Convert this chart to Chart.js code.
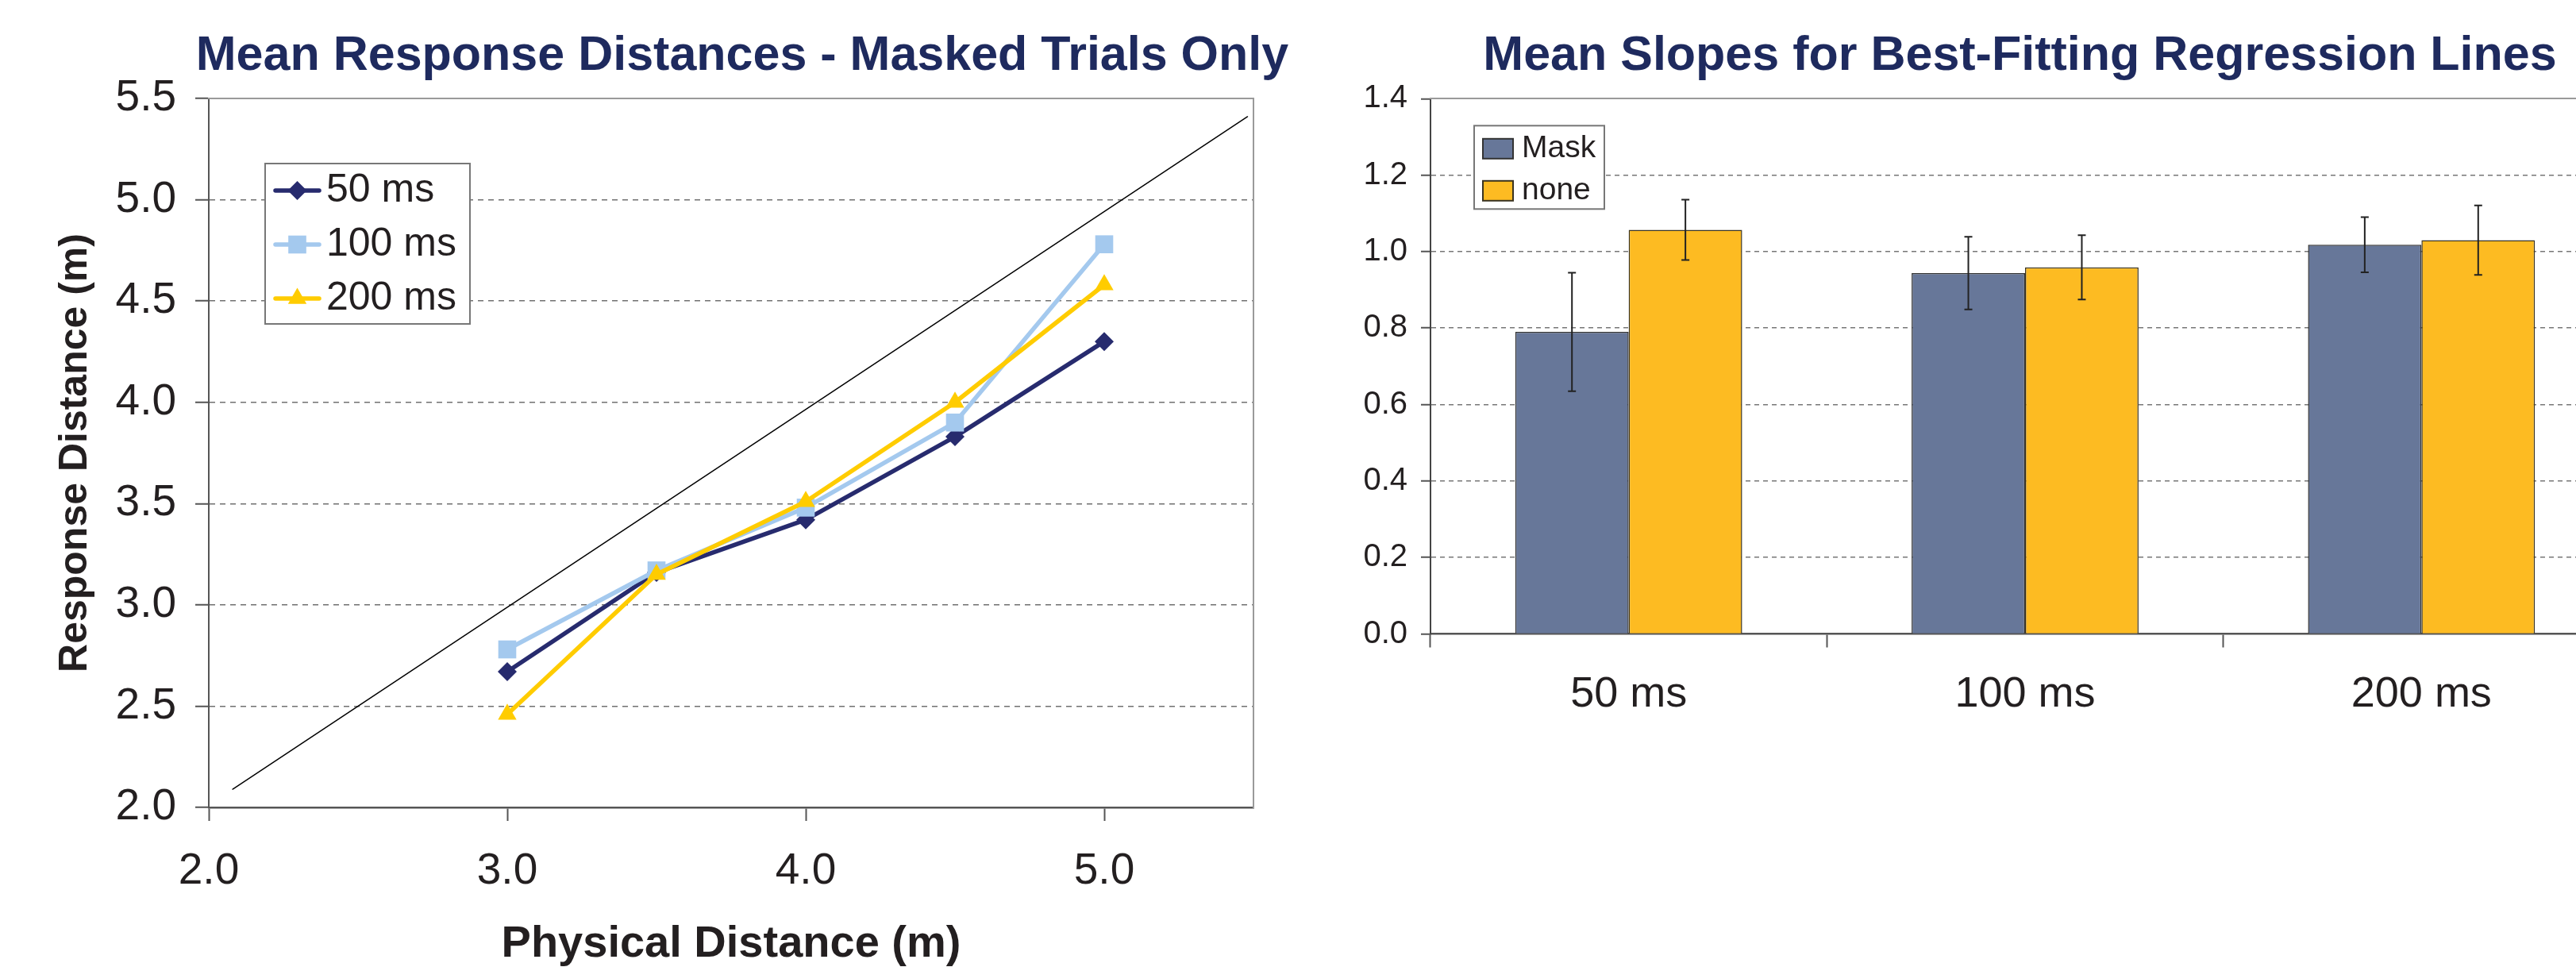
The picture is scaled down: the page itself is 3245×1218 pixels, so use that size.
<!DOCTYPE html>
<html>
<head>
<meta charset="utf-8">
<script src="https://cdn.jsdelivr.net/npm/chart.js@4.4.1/dist/chart.umd.min.js"></script>
<style>
html,body{margin:0;padding:0;overflow:hidden;background:#fff;width:3245px;height:1218px;}
canvas{position:absolute;top:0;}
#c1{left:0;}
#c2{left:1650px;}
</style>
</head>
<body>
<canvas id="c1" width="1870" height="1218" style="width:1870px;height:1218px"></canvas>
<canvas id="c2" width="1789" height="1218" style="width:1789px;height:1218px"></canvas>
<script>
// ---------- data: left chart ----------
const physicalDistances = [3.0, 3.5, 4.0, 4.5, 5.0];
const resp50ms  = [2.67, 3.16, 3.42, 3.83, 4.30];
const resp100ms = [2.78, 3.17, 3.48, 3.90, 4.78];
const resp200ms = [2.46, 3.15, 3.51, 4.00, 4.58];
const seriesLabels = ['50 ms', '100 ms', '200 ms'];
const refLineX = [2.08, 5.48];
const refLineY = [2.09, 5.41];

// ---------- data: right chart ----------
const slopeCategories = ['50 ms', '100 ms', '200 ms'];
const barLabels = ['Mask', 'none'];
const maskSlopes = [0.790, 0.944, 1.018];
const maskErrors = [0.155, 0.095, 0.072];
const noneSlopes = [1.057, 0.959, 1.030];
const noneErrors = [0.079, 0.084, 0.091];

// ---------- styling ----------
const FONT = "'Liberation Sans', Arial, Helvetica, sans-serif";
Chart.defaults.font.family = FONT;
Chart.defaults.color = '#231F20';
const TITLE_COLOR = '#1E2A5E';
const TEXT_COLOR = '#231F20';

const errorBarPlugin = {
  id: 'errorBars',
  afterDatasetsDraw(chart, args, o) {
    const ctx = chart.ctx;
    const yScale = chart.scales.y;
    chart.data.datasets.forEach((ds, di) => {
      if (!ds.errors) return;
      const meta = chart.getDatasetMeta(di);
      meta.data.forEach((el, i) => {
        const v = ds.data[i], e = ds.errors[i];
        const x = el.x;
        const yT = yScale.getPixelForValue(v + e);
        const yB = yScale.getPixelForValue(v - e);
        ctx.save();
        ctx.strokeStyle = o.color;
        ctx.lineWidth = o.width;
        ctx.beginPath();
        ctx.moveTo(x, yT); ctx.lineTo(x, yB);
        ctx.moveTo(x - o.cap, yT); ctx.lineTo(x + o.cap, yT);
        ctx.moveTo(x - o.cap, yB); ctx.lineTo(x + o.cap, yB);
        ctx.stroke();
        ctx.restore();
      });
    });
  }
};

const boxLegendPlugin = {
  id: 'boxLegend',
  afterDraw(chart, args, o) {
    if (!o || !o.enabled) return;
    const {ctx, chartArea} = chart;
    const bx = chartArea.left + o.dx, by = chartArea.top + o.dy;
    ctx.save();
    ctx.fillStyle = '#ffffff';
    ctx.fillRect(bx, by, o.w, o.h);
    ctx.strokeStyle = o.borderColor;
    ctx.lineWidth = o.borderWidth;
    ctx.strokeRect(bx, by, o.w, o.h);
    const items = chart.data.datasets.filter(d => d.inLegend !== false);
    items.forEach((ds, i) => {
      const cy = by + o.firstY + i * o.rowGap;
      if (o.kind === 'line') {
        ctx.strokeStyle = ds.borderColor;
        ctx.lineWidth = ds.borderWidth;
        ctx.lineCap = 'round';
        ctx.beginPath();
        ctx.moveTo(bx + o.sx0, cy);
        ctx.lineTo(bx + o.sx1, cy);
        ctx.stroke();
        ctx.fillStyle = ds.pointBackgroundColor;
        ctx.strokeStyle = ds.pointBackgroundColor;
        Chart.helpers.drawPoint(ctx, {pointStyle: ds.pointStyle, radius: ds.pointRadius, borderWidth: 0, rotation: 0}, bx + (o.sx0 + o.sx1) / 2, cy);
      } else {
        ctx.fillStyle = ds.backgroundColor;
        ctx.fillRect(bx + o.sx0, cy - o.sh / 2, o.sw, o.sh);
        ctx.strokeStyle = ds.borderColor;
        ctx.lineWidth = 2;
        ctx.strokeRect(bx + o.sx0, cy - o.sh / 2, o.sw, o.sh);
      }
      ctx.fillStyle = TEXT_COLOR;
      ctx.font = o.fontSize + 'px ' + FONT;
      ctx.textAlign = 'left';
      ctx.textBaseline = 'middle';
      ctx.fillText(ds.label, bx + o.tx, cy);
    });
    ctx.restore();
  }
};

const near = (a, b) => Math.abs(a - b) < 1e-6;
const toPts = ys => physicalDistances.map((x, i) => ({x: x, y: ys[i]}));

// ---------- left chart ----------
const C50 = '#272B6E', C100 = '#A4C9EE', C200 = '#FFCC00';
new Chart(document.getElementById('c1'), {
  type: 'line',
  plugins: [boxLegendPlugin],
  data: {
    datasets: [
      {label: seriesLabels[0], data: toPts(resp50ms), borderColor: C50, backgroundColor: C50, pointBackgroundColor: C50,
       borderWidth: 5.5, pointStyle: 'rectRot', pointRadius: 12, pointBorderWidth: 0, order: 2, xAxisID: 'x', yAxisID: 'y'},
      {label: seriesLabels[1], data: toPts(resp100ms), borderColor: C100, backgroundColor: C100, pointBackgroundColor: C100,
       borderWidth: 5.5, pointStyle: 'rect', pointRadius: 16, pointBorderWidth: 0, order: 1, xAxisID: 'x', yAxisID: 'y'},
      {label: seriesLabels[2], data: toPts(resp200ms), borderColor: C200, backgroundColor: C200, pointBackgroundColor: C200,
       borderWidth: 5.5, pointStyle: 'triangle', pointRadius: 13.5, pointBorderWidth: 0, order: 0, xAxisID: 'x', yAxisID: 'y'},
      {label: 'reference', data: refLineX.map((x, i) => ({x: x, y: refLineY[i]})), borderColor: '#000000',
       borderWidth: 1.5, pointRadius: 0, inLegend: false, order: 3, xAxisID: 'x', yAxisID: 'y'}
    ]
  },
  options: {
    responsive: false,
    devicePixelRatio: 1,
    animation: false,
    events: [],
    layout: {padding: 0},
    elements: {line: {tension: 0, borderJoinStyle: 'round', borderCapStyle: 'round'}},
    plugins: {
      legend: {display: false},
      tooltip: {enabled: false},
      title: {display: true, text: 'Mean Response Distances - Masked Trials Only', color: TITLE_COLOR,
              font: {size: 61, weight: 'bold', lineHeight: 1.2}, padding: {top: 34.2, bottom: 16.6}},
      boxLegend: {enabled: true, kind: 'line', dx: 71, dy: 82, w: 258, h: 202, firstY: 34, rowGap: 68,
                  sx0: 13, sx1: 68, tx: 77, fontSize: 50, borderColor: '#777777', borderWidth: 2}
    },
    scales: {
      x: {type: 'linear', position: 'bottom', min: 2, max: 5.5,
          ticks: {stepSize: 1, includeBounds: false, callback: v => Number(v).toFixed(1), font: {size: 55}, padding: 31,
                  color: TEXT_COLOR, maxRotation: 0, autoSkip: false},
          grid: {drawOnChartArea: false, drawTicks: true, tickLength: 17, tickColor: '#555555', tickWidth: 2},
          border: {color: '#555555', width: 2.5},
          title: {display: true, text: 'Physical Distance (m)', color: TEXT_COLOR,
                  font: {size: 56, weight: 'bold', lineHeight: 1}, padding: {top: 0, bottom: 0}},
          afterFit: s => { s.height = 201; }},
      y: {type: 'linear', position: 'left', min: 2, max: 5.5,
          ticks: {stepSize: 0.5, callback: v => Number(v).toFixed(1), font: {size: 55}, padding: 24, color: TEXT_COLOR},
          grid: {color: c => (c.tick && (near(c.tick.value, 2) || near(c.tick.value, 5.5))) ? 'rgba(0,0,0,0)' : '#707070',
                 lineWidth: 1.5, drawTicks: true, tickLength: 17, tickColor: '#555555', tickWidth: 2},
          border: {color: '#555555', width: 2, dash: [7, 6]},
          title: {display: true, text: 'Response Distance (m)', color: TEXT_COLOR,
                  font: {size: 50, weight: 'bold', lineHeight: 1}, padding: {top: 70, bottom: 0}},
          afterFit: s => { s.width = 263; }},
      xTop: {type: 'linear', position: 'top', min: 2, max: 5.5, display: true,
             ticks: {display: false}, grid: {display: false, drawTicks: false},
             border: {display: true, color: '#9a9a9a', width: 2},
             afterFit: s => { s.height = 0; }},
      yR: {type: 'linear', position: 'right', min: 2, max: 5.5, display: true,
           ticks: {display: false}, grid: {display: false, drawTicks: false},
           border: {display: true, color: '#9a9a9a', width: 2},
           afterFit: s => { s.width = 291; }}
    }
  }
});

// ---------- right chart ----------
const MASK_COLOR = '#677799', NONE_COLOR = '#FDBB22';
new Chart(document.getElementById('c2'), {
  type: 'bar',
  plugins: [errorBarPlugin, boxLegendPlugin],
  data: {
    labels: slopeCategories,
    datasets: [
      {label: barLabels[0], data: maskSlopes, errors: maskErrors, backgroundColor: MASK_COLOR, borderColor: '#333333',
       borderWidth: 1.5, categoryPercentage: 0.5725, barPercentage: 1.0, xAxisID: 'x', yAxisID: 'y'},
      {label: barLabels[1], data: noneSlopes, errors: noneErrors, backgroundColor: NONE_COLOR, borderColor: '#3a3320',
       borderWidth: 1.5, categoryPercentage: 0.5725, barPercentage: 1.0, xAxisID: 'x', yAxisID: 'y'}
    ]
  },
  options: {
    responsive: false,
    devicePixelRatio: 1,
    animation: false,
    events: [],
    layout: {padding: 0},
    plugins: {
      legend: {display: false},
      tooltip: {enabled: false},
      title: {display: true, text: 'Mean Slopes for Best-Fitting Regression Lines', color: TITLE_COLOR,
              font: {size: 61, weight: 'bold', lineHeight: 1.2}, padding: {top: 34.2, bottom: 16.9}},
      errorBars: {color: '#222222', width: 2, cap: 5},
      boxLegend: {enabled: true, kind: 'box', dx: 55, dy: 34, w: 164, h: 105, firstY: 29, rowGap: 53,
                  sx0: 11, sw: 38, sh: 25, tx: 60, fontSize: 39, borderColor: '#777777', borderWidth: 2}
    },
    scales: {
      x: {type: 'category', position: 'bottom', offset: true,
          ticks: {font: {size: 54}, padding: 27, color: TEXT_COLOR, maxRotation: 0, autoSkip: false},
          grid: {offset: true, drawOnChartArea: false, drawTicks: true, tickLength: 17, tickColor: '#555555', tickWidth: 2},
          border: {color: '#555555', width: 2.5},
          afterFit: s => { s.height = 419.5; }},
      y: {type: 'linear', position: 'left', min: 0, max: 1.4,
          ticks: {stepSize: 0.2, callback: v => Number(v).toFixed(1), font: {size: 40}, padding: 17, color: TEXT_COLOR},
          grid: {color: c => (c.tick && (near(c.tick.value, 0) || near(c.tick.value, 1.4))) ? 'rgba(0,0,0,0)' : '#777777',
                 lineWidth: 1.5, drawTicks: true, tickLength: 12, tickColor: '#555555', tickWidth: 2},
          border: {color: '#444444', width: 2, dash: [6, 5]},
          afterFit: s => { s.width = 152; }},
      xTop: {type: 'linear', position: 'top', min: 0, max: 1, display: true,
             ticks: {display: false}, grid: {display: false, drawTicks: false},
             border: {display: true, color: '#9a9a9a', width: 2},
             afterFit: s => { s.height = 0; }},
      yR: {type: 'linear', position: 'right', min: 0, max: 1.4, display: true,
           ticks: {display: false}, grid: {display: false, drawTicks: false},
           border: {display: false},
           afterFit: s => { s.width = 139; }}
    }
  }
});
</script>
</body>
</html>
